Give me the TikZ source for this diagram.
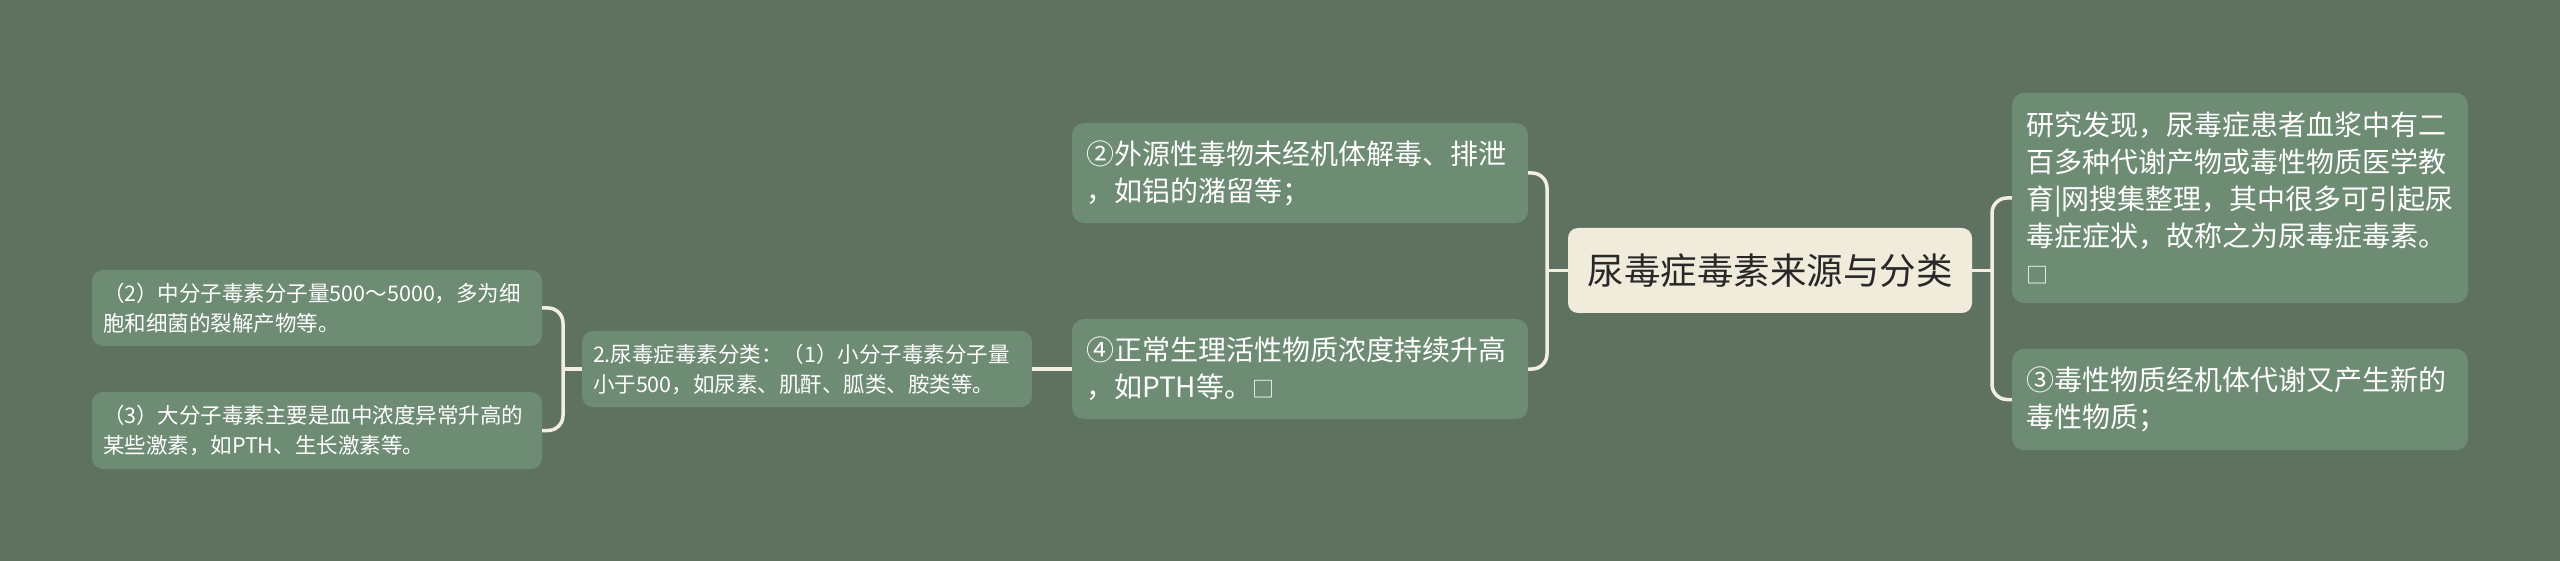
\documentclass[tikz,border=0pt]{standalone}
\usepackage{fontspec}
\setmainfont{Noto Sans CJK SC}
\definecolor{bgc}{RGB}{95,114,98}
\definecolor{nodefill}{RGB}{110,139,116}
\definecolor{rootfill}{RGB}{240,235,219}
\definecolor{linec}{RGB}{243,239,224}
\definecolor{roottext}{RGB}{40,40,40}
\tikzset{
  conn/.style={draw=linec, line width=3.5pt, rounded corners=15pt},
  rootbox/.style={fill=rootfill, rounded corners=10pt, text=roottext, inner sep=0pt,
    minimum width=404pt, minimum height=85pt, font=\fontsize{36.5}{44}\selectfont},
  bigbox/.style={fill=nodefill, rounded corners=12pt, text=white, inner xsep=14pt, inner ysep=0pt,
    minimum width=456pt, text width=428pt, align=left, font=\fontsize{28}{37}\selectfont},
  smallbox/.style={fill=nodefill, rounded corners=11pt, text=white, inner xsep=11pt, inner ysep=0pt,
    minimum width=450pt, text width=428pt, align=left, font=\fontsize{21.5}{30}\selectfont},
}
\begin{document}
\begin{tikzpicture}[x=1pt,y=-1pt]
\fill[bgc] (0,0) rectangle (2560,561);
\useasboundingbox (0,0) rectangle (2560,561);

\node[rootbox] (root) at (1770,270.5) {尿毒症毒素来源与分类};

\node[bigbox, minimum height=100pt] (n2) at (1300,173) {②外源性毒物未经机体解毒、排泄\\，如铝的潴留等；};
\node[bigbox, minimum height=100pt] (n4) at (1300,369) {④正常生理活性物质浓度持续升高\\，如PTH等。{\fontsize{22}{22}\selectfont □}};

\node[bigbox, minimum height=210pt] (r1) at (2240,198) {研究发现，尿毒症患者血浆中有二\\百多种代谢产物或毒性物质医学教\\育|网搜集整理，其中很多可引起尿\\毒症症状，故称之为尿毒症毒素。\\{\fontsize{22}{22}\selectfont □}};
\node[bigbox, minimum height=101pt] (r3) at (2240,399.5) {③毒性物质经机体代谢又产生新的\\毒性物质；};

\node[smallbox, minimum height=76pt] (m2) at (807,369) {2.尿毒症毒素分类：（1）小分子毒素分子量\\小于500，如尿素、肌酐、胍类、胺类等。};
\node[smallbox, minimum height=76pt] (la) at (317,308) {（2）中分子毒素分子量500～5000，多为细\\胞和细菌的裂解产物等。};
\node[smallbox, minimum height=77pt] (lb) at (317,430.5) {（3）大分子毒素主要是血中浓度异常升高的\\某些激素，如PTH、生长激素等。};

\coordinate (bx1) at (1547,270.5);
\coordinate (bx2) at (1992,270.5);
\coordinate (bx3) at (563,369);

\draw[conn] (root.west) -- (bx1);
\draw[conn] (n2.east) -| (bx1) |- (n4.east);
\draw[conn] (root.east) -- (bx2);
\draw[conn] (r1.west) -| (bx2) |- (r3.west);
\draw[conn] (n4.west) -- (m2.east);
\draw[conn] (m2.west) -- (bx3);
\draw[conn] (la.east) -| (bx3) |- (lb.east);
\end{tikzpicture}
\end{document}
